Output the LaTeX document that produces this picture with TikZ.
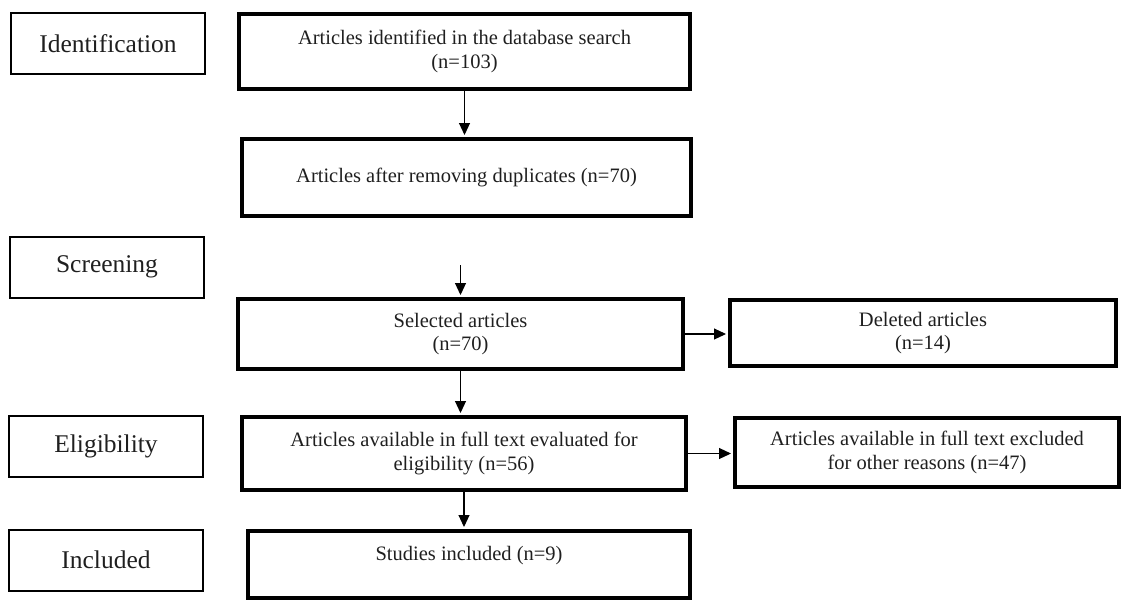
\documentclass[tikz,border=0pt]{standalone}
\usepackage{fontspec}
\setmainfont{Liberation Serif}
\usetikzlibrary{arrows.meta}
\definecolor{ink}{rgb}{0.12,0.12,0.12}

\begin{document}
\begin{tikzpicture}[x=1pt,y=-1pt,
  stage/.style={draw, line width=2pt, minimum width=194pt, minimum height=61pt,
    text=ink, font=\fontsize{25.5}{28}\selectfont},
  stepbox/.style={draw, line width=4pt, align=center, inner sep=0pt,
    text=ink, font=\fontsize{20.5}{23.5}\selectfont},
  arr/.style={-{Triangle[length=12pt,width=11pt]}, line width=1.1pt, shorten >=2pt}]
\useasboundingbox (0,0) rectangle (1123,603);

% stages
\node[stage] (ident) at (108,43.5) {Identification};
\node[stage] (screen) at (107,267) {Screening};
\node[stage] (elig) at (106,446.5) {Eligibility};
\node[stage] (incl) at (106,560) {Included};

% main column
\node[stepbox, minimum width=451pt, minimum height=75pt] (search) at (464.5,51.5)
  {Articles identified in the database search\\(n=103)};
\node[stepbox, minimum width=449pt, minimum height=77pt] (dupl) at (466.5,177.5)
  {Articles after removing duplicates (n=70)};
\node[stepbox, minimum width=445pt, minimum height=70pt] (sel) at (460.5,334)
  {Selected articles\\(n=70)};
\node[stepbox, minimum width=444pt, minimum height=73pt] (full) at (464,453.5)
  {Articles available in full text evaluated for\\eligibility (n=56)};
\node[stepbox, minimum width=442pt, minimum height=67pt, text depth=23pt] (studies) at (469,564.5)
  {Studies included (n=9)};

% excluded on the right
\node[stepbox, minimum width=386pt, minimum height=66pt] (del) at (923,333)
  {Deleted articles\\(n=14)};
\node[stepbox, minimum width=384pt, minimum height=69pt] (excl) at (927,452.5)
  {Articles available in full text excluded\\for other reasons (n=47)};

\coordinate (scrtop) at (460.5,265);

\draw[arr] (search.south) -- (search.south |- dupl.north);
\draw[arr] (scrtop) -- (sel.north);
\draw[arr] (sel.south) -- (sel.south |- full.north);
\draw[arr] (full.south) -- (full.south |- studies.north);
\draw[arr] (sel.east) -- (sel.east -| del.west);
\draw[arr] (full.east) -- (full.east -| excl.west);
\end{tikzpicture}
\end{document}
